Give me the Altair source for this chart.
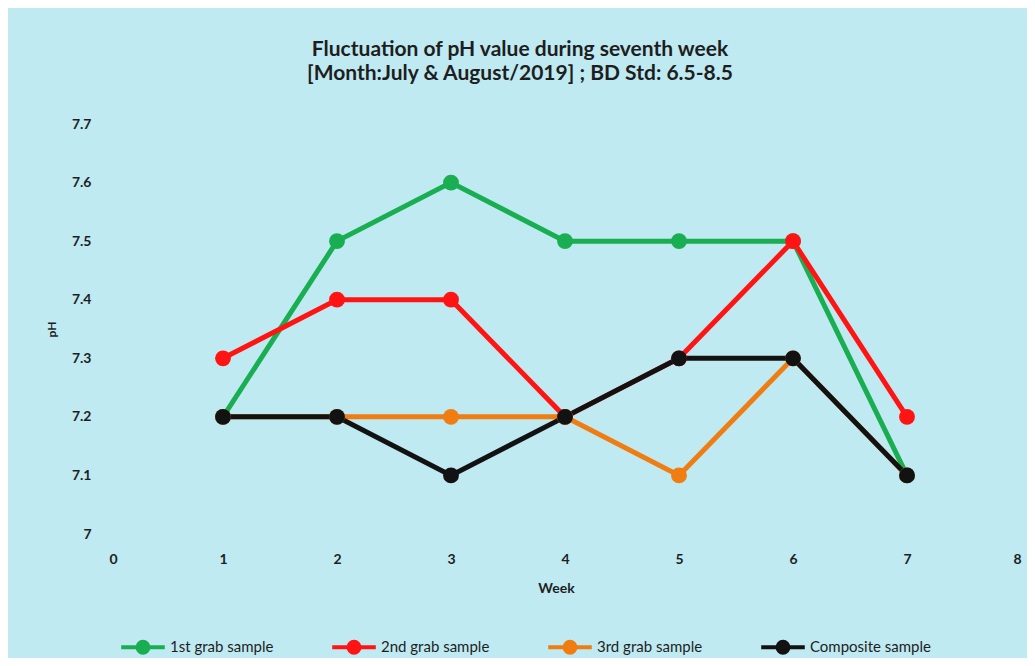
import altair as alt
import pandas as pd

weeks = [1, 2, 3, 4, 5, 6, 7]
first_grab = [7.2, 7.5, 7.6, 7.5, 7.5, 7.5, 7.1]
second_grab = [7.3, 7.4, 7.4, 7.2, 7.3, 7.5, 7.2]
third_grab = [7.2, 7.2, 7.2, 7.2, 7.1, 7.3, 7.1]
composite = [7.2, 7.2, 7.1, 7.2, 7.3, 7.3, 7.1]

series_names = ["1st grab sample", "2nd grab sample", "3rd grab sample", "Composite sample"]
series_colors = ["#1aae52", "#ff1414", "#f07d12", "#121212"]
x_ticks = [0, 1, 2, 3, 4, 5, 6, 7, 8]
y_ticks = [7.0, 7.1, 7.2, 7.3, 7.4, 7.5, 7.6, 7.7]

rows = []
for name, vals in zip(series_names, [first_grab, second_grab, third_grab, composite]):
    for w, v in zip(weeks, vals):
        rows.append({"Week": w, "pH": v, "Series": name})
df = pd.DataFrame(rows)

FONT = "Lato"
TXT = "#1e1e1e"
legend_path = "M-1,0L1,0M-0.25,0A0.25,0.25 0 1,0 0.25,0A0.25,0.25 0 1,0 -0.25,0Z"

base = alt.Chart(df).encode(
    x=alt.X("Week:Q",
            scale=alt.Scale(domain=[0, 8], nice=False, zero=False),
            axis=alt.Axis(values=x_ticks, title="Week", grid=False, domain=False, ticks=False,
                          labelPadding=18, titlePadding=15, labelFontSize=14, labelFontWeight="bold",
                          labelColor=TXT, titleFontSize=14, titleFontWeight="bold", titleColor=TXT,
                          labelFont=FONT, titleFont=FONT, format="d", titleX=447)),
    y=alt.Y("pH:Q",
            scale=alt.Scale(domain=[7.0, 7.7], nice=False, zero=False),
            axis=alt.Axis(values=y_ticks, title="pH", grid=False, domain=False, ticks=False,
                          labelPadding=18, titlePadding=13, labelFontSize=14, labelFontWeight="bold",
                          labelColor=TXT, titleFontSize=12, titleFontWeight="bold", titleColor=TXT,
                          labelFont=FONT, titleFont=FONT, format=".2~f")),
    color=alt.Color("Series:N",
                    scale=alt.Scale(domain=series_names, range=series_colors),
                    legend=alt.Legend(title=None, orient="none", direction="horizontal",
                                      legendX=10, legendY=499, symbolType=legend_path,
                                      symbolSize=1900, symbolStrokeWidth=4, labelFontSize=15,
                                      labelFont=FONT, labelColor=TXT, labelOffset=3,
                                      columnPadding=50, labelLimit=300)),
)

lines = base.mark_line(strokeWidth=5)
points = base.mark_circle(size=250, opacity=1)

chart = alt.layer(lines, points).properties(
    width=912,
    height=410,
    autosize=alt.AutoSizeParams(type="none"),
    padding={"left": 101, "top": 116, "right": 6, "bottom": 124},
    background="#bfeaf2",
    title=alt.TitleParams(
        text=["Fluctuation of pH value during seventh week",
              "[Month:July & August/2019] ; BD Std: 6.5-8.5"],
        fontSize=21, fontWeight="bold", font=FONT, color=TXT,
        anchor="middle", offset=33, dx=-45, lineHeight=24,
    ),
).configure_view(stroke=None)

chart.save("out.html", embed_options={"renderer": "svg", "actions": False})
